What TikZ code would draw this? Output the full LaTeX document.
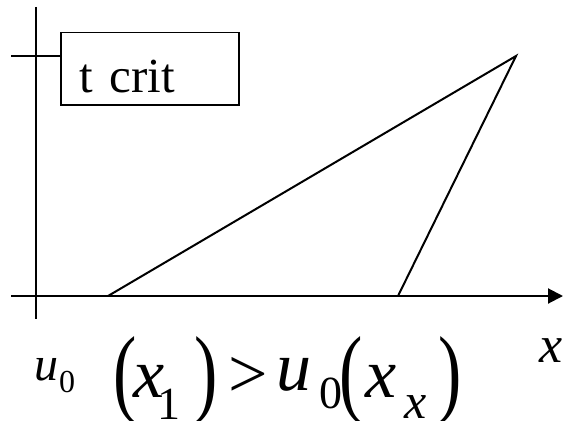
\documentclass[tikz,border=0pt]{standalone}
\usepackage{fontspec}
\newfontfamily\tnr{Liberation Serif}
\usetikzlibrary{arrows.meta}
\newcommand{\fsz}[1]{\fontsize{#1}{#1}\selectfont\tnr}
\tikzset{
  ax/.style={line width=2pt},
  edge/.style={line width=2pt},
  lbl/.style={inner sep=0pt, anchor=base west},
  par/.style={inner sep=0pt, anchor=center},
}
\begin{document}
\begin{tikzpicture}[x=1pt,y=-1pt]
\useasboundingbox (0,0) rectangle (569,420);
% axes
\coordinate (vtop) at (36,7);
\coordinate (vbot) at (36,319);
\coordinate (hl) at (11,296);
\coordinate (hr) at (563,296);
\draw[ax] (vtop) -- (vbot);
\draw[ax,-{Triangle[length=15pt,width=15pt]}] (hl) -- (hr);
% box
\node[draw, line width=1.5pt, anchor=north west, minimum width=178pt, minimum height=72pt,
      inner xsep=19pt, inner ysep=0pt, text width=140pt, align=left,
      text height=48pt, text depth=0pt, font=\fsz{49}] (tc) at (60,32) {t crit};
\coordinate (tk) at (11,56);
\draw[ax] (tk) -- (tc.west |- tk);
% triangle
\coordinate (a) at (108,296);
\coordinate (b) at (516,56);
\coordinate (c) at (398,296);
\draw[edge, line join=miter] (a) -- (b) -- (c);
% formula
\node[lbl, font=\fsz{48}\itshape] (u1) at (34,380) {u};
\node[lbl, font=\fsz{32}] (z1) at (59,392) {0};
\node[par, font=\fsz{70}] (p1) at (125,381) {\scalebox{1}[1.4]{(}};
\node[lbl, font=\fsz{70}\itshape] (x1) at (133,397) {x};
\node[lbl, font=\fsz{46}] (s1) at (157,419) {1};
\node[par, font=\fsz{70}] (q1) at (206,381) {\scalebox{1}[1.4]{)}};
\node[lbl, font=\fsz{70}] (gt) at (228,397) {>};
\node[lbl, font=\fsz{70}\itshape] (u2) at (276,390) {u};
\node[lbl, font=\fsz{46}] (z2) at (319,408) {0};
\node[par, font=\fsz{70}] (p2) at (351,381) {\scalebox{1}[1.4]{(}};
\node[lbl, font=\fsz{70}\itshape] (x2) at (365,397) {x};
\node[lbl, font=\fsz{50}\itshape] (s2) at (404,418) {x};
\node[par, font=\fsz{70}] (q2) at (450,381) {\scalebox{1}[1.4]{)}};
\node[lbl, font=\fsz{52}\itshape] (xl) at (539,362) {x};
\end{tikzpicture}
\end{document}
